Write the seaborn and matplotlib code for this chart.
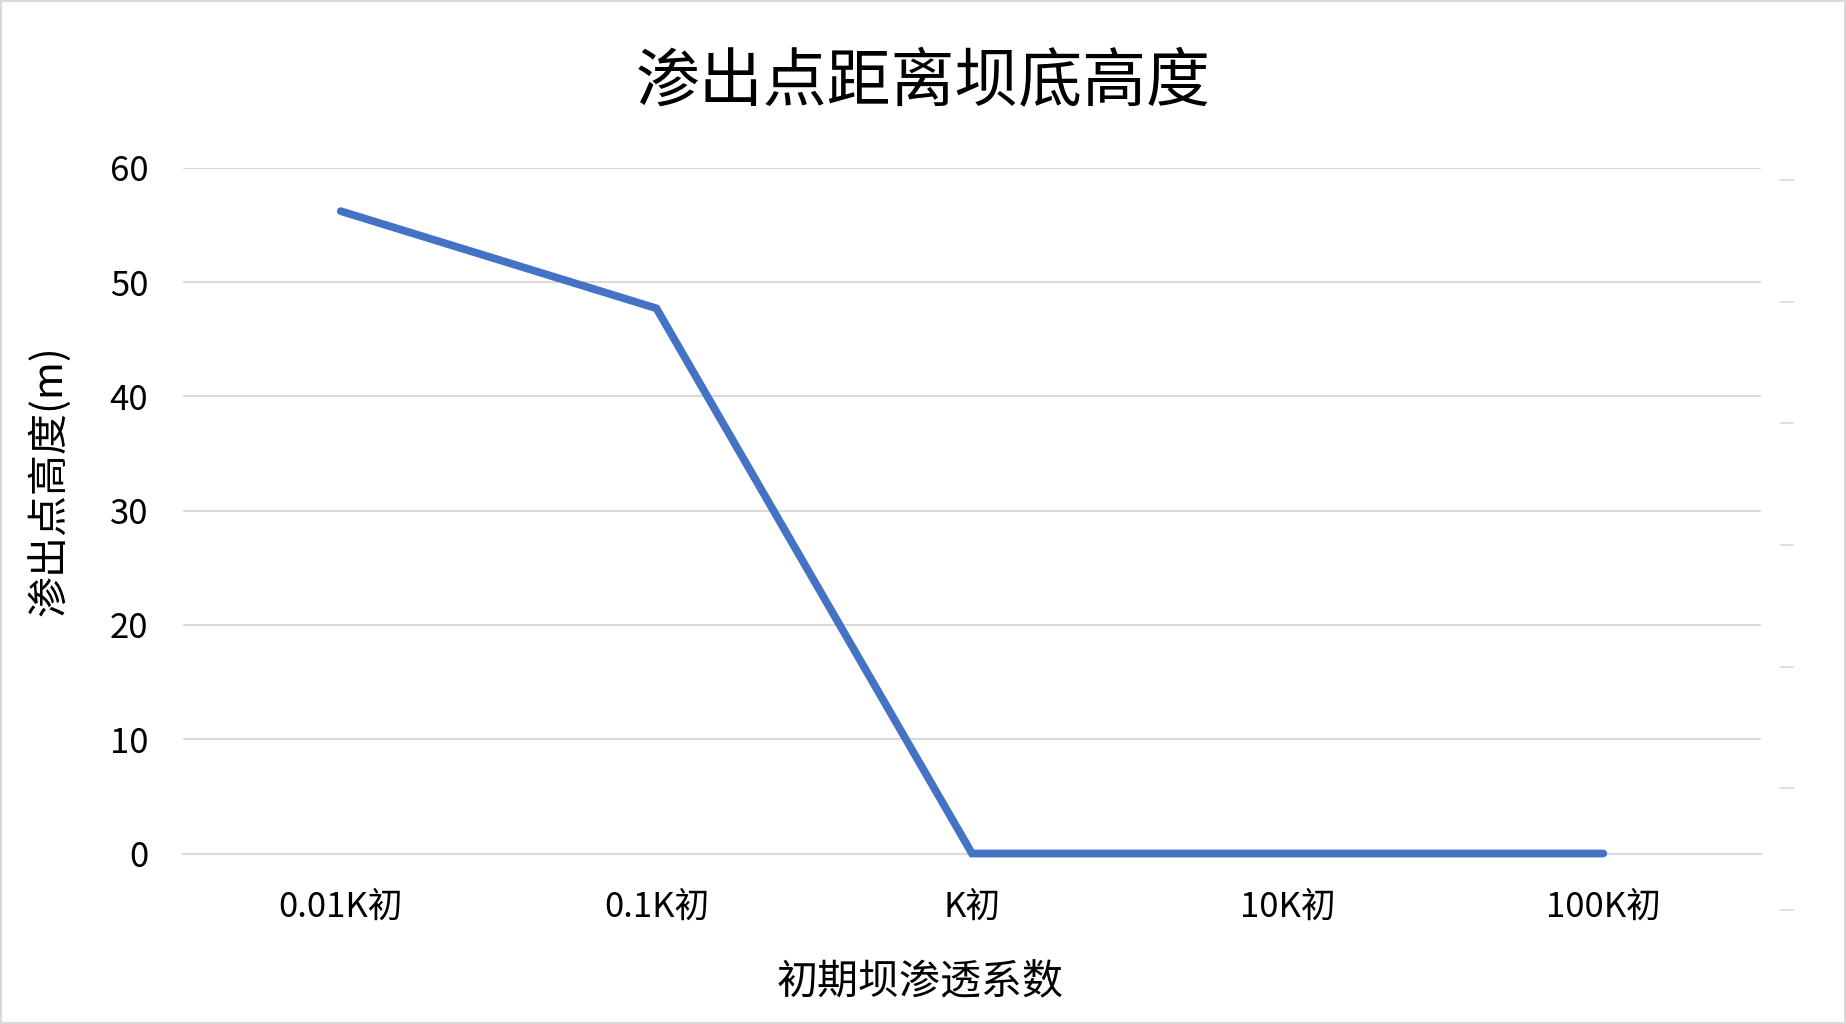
import matplotlib
matplotlib.use("Agg")
import matplotlib.pyplot as plt
import seaborn as sns
import pandas as pd
from matplotlib.patches import Rectangle

categories = ["0.01K初", "0.1K初", "K初", "10K初", "100K初"]
heights = [56.2, 47.7, 0.0, 0.0, 0.0]
yticks = [0, 10, 20, 30, 40, 50, 60]

title = "渗出点距离坝底高度"
xlabel = "初期坝渗透系数"
ylabel = "渗出点高度(m)"

sns.set_theme(style="white")
plt.rcParams['font.family'] = ['Noto Sans CJK SC', 'DejaVu Sans']

df = pd.DataFrame({"cat": categories, "h": heights})

fig = plt.figure(figsize=(18.46, 10.24), dpi=100)
ax = fig.add_axes([0.0991, 0.1665, 0.9540 - 0.0991, 0.8362 - 0.1665])

sns.lineplot(data=df, x="cat", y="h", ax=ax, sort=False, color="#4472C4",
             linewidth=5.6, solid_capstyle="round", solid_joinstyle="miter",
             clip_on=False, zorder=5)

ax.set_xlim(-0.5, len(categories) - 0.5)
ax.set_ylim(0, 60)
ax.set_yticks(yticks)
ax.set_yticklabels([str(v) for v in yticks])
ax.grid(axis="y", color="#d9d9d9", linewidth=1.5)
ax.grid(axis="x", visible=False)
ax.set_axisbelow(True)
for s in ["top", "right", "left"]:
    ax.spines[s].set_visible(False)
ax.spines["bottom"].set_color("#d9d9d9")
ax.spines["bottom"].set_linewidth(1.5)
ax.tick_params(axis="both", length=0, labelsize=25, colors="#000000")
ax.tick_params(axis="y", pad=25)
ax.tick_params(axis="x", pad=26)

ax.set_xlabel("")
ax.set_ylabel("")
fig.text(0.4985, 0.040, xlabel, ha="center", va="center", fontsize=29.5, color="#000000")
fig.text(0.0268, 0.531, ylabel, ha="center", va="center", rotation=90,
         fontsize=29.5, color="#000000")
fig.text(0.5, 0.919, title, ha="center", va="center", fontsize=46, color="#000000")

# faint secondary tick marks at the right side
ax2 = fig.add_axes([0.9718, 1 - 910 / 1024, 0.001, (910 - 180) / 1024])
ax2.set_ylim(0, 6)
ax2.set_yticks(range(7))
ax2.set_yticklabels([])
ax2.set_xticks([])
for s in ax2.spines.values():
    s.set_visible(False)
ax2.patch.set_alpha(0)
ax2.tick_params(axis="y", direction="out", length=10, width=1.2, color="#d9d9d9", left=True)

fig.patches.append(Rectangle((0.0008, 0.001), 0.9984, 0.998, transform=fig.transFigure,
                             fill=False, edgecolor="#d9d9d9", linewidth=1.5))

fig.savefig("out.png", dpi=100, facecolor="white")
